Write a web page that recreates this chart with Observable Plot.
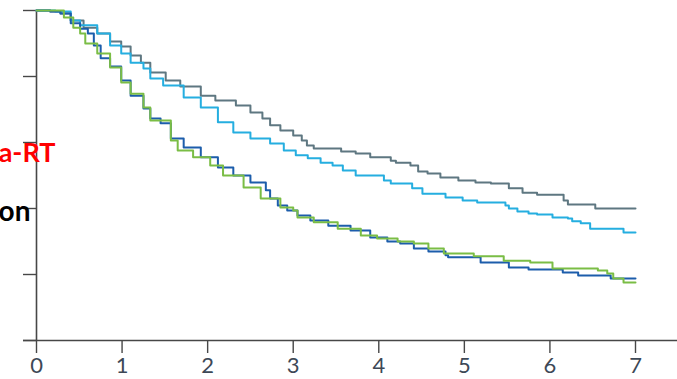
<!DOCTYPE html>
<html>
<head>
<meta charset="utf-8">
<script src="https://cdn.jsdelivr.net/npm/d3@7"></script>
<script src="https://cdn.jsdelivr.net/npm/@observablehq/plot@0.6"></script>
<style>
  html, body { margin: 0; padding: 0; background: #fff; }
  #chart { width: 677px; height: 379px; overflow: hidden; }
</style>
</head>
<body>
<div id="chart"></div>
<script>
// Series names and colours
const seriesNames = ["Arm A", "Arm B", "Arm C", "Arm D"];
const seriesColors = ["#5e7781", "#25aee0", "#1c5dab", "#7abd45"];

// Kaplan-Meier curves: [time (years), survival]
const greyCurve = [
  [0, 1.000], [0.16, 0.997], [0.28, 0.991], [0.40, 0.970], [0.55, 0.948], [0.71, 0.930],
  [0.86, 0.906], [0.99, 0.891], [1.10, 0.864], [1.22, 0.842], [1.33, 0.812], [1.51, 0.788],
  [1.68, 0.770], [1.92, 0.742], [2.09, 0.727], [2.33, 0.712], [2.50, 0.691], [2.64, 0.673],
  [2.73, 0.652], [2.85, 0.636], [3.00, 0.621], [3.10, 0.606], [3.16, 0.591], [3.24, 0.582],
  [3.56, 0.573], [3.73, 0.567], [3.90, 0.555], [4.14, 0.545], [4.20, 0.539], [4.37, 0.530],
  [4.46, 0.512], [4.57, 0.506], [4.72, 0.494], [4.93, 0.485], [5.13, 0.479], [5.31, 0.476],
  [5.52, 0.461], [5.68, 0.448], [5.85, 0.442], [6.16, 0.424], [6.21, 0.412], [6.53, 0.400],
  [7.00, 0.400]
];
const cyanCurve = [
  [0, 1.000], [0.22, 0.997], [0.40, 0.970], [0.51, 0.955], [0.71, 0.930], [0.86, 0.894],
  [0.99, 0.870], [1.10, 0.842], [1.25, 0.824], [1.33, 0.794], [1.48, 0.773], [1.72, 0.736],
  [1.92, 0.706], [2.12, 0.661], [2.30, 0.630], [2.50, 0.612], [2.73, 0.597], [2.89, 0.576],
  [3.03, 0.561], [3.17, 0.552], [3.32, 0.539], [3.46, 0.530], [3.58, 0.515], [3.73, 0.500],
  [4.06, 0.485], [4.14, 0.476], [4.39, 0.461], [4.51, 0.445], [4.78, 0.433], [4.98, 0.424],
  [5.15, 0.418], [5.48, 0.409], [5.52, 0.400], [5.62, 0.391], [5.75, 0.385], [5.85, 0.382],
  [6.03, 0.373], [6.21, 0.370], [6.26, 0.361], [6.36, 0.355], [6.47, 0.339], [6.86, 0.327],
  [7.00, 0.327]
];
const blueCurve = [
  [0, 1.000], [0.16, 0.997], [0.28, 0.991], [0.40, 0.961], [0.51, 0.945], [0.60, 0.930],
  [0.67, 0.894], [0.75, 0.855], [0.86, 0.830], [0.99, 0.788], [1.10, 0.742], [1.25, 0.703],
  [1.33, 0.673], [1.45, 0.658], [1.57, 0.612], [1.72, 0.585], [1.92, 0.555], [2.12, 0.524],
  [2.30, 0.500], [2.50, 0.479], [2.68, 0.455], [2.73, 0.430], [2.82, 0.409], [2.93, 0.394],
  [3.05, 0.379], [3.20, 0.364], [3.41, 0.348], [3.67, 0.333], [3.90, 0.312], [4.10, 0.300],
  [4.25, 0.294], [4.41, 0.279], [4.58, 0.270], [4.78, 0.258], [4.81, 0.252], [5.19, 0.236],
  [5.52, 0.221], [5.75, 0.215], [6.15, 0.206], [6.33, 0.197], [6.71, 0.188], [7.00, 0.188]
];
const greenCurve = [
  [0, 1.000], [0.28, 1.000], [0.32, 0.979], [0.43, 0.948], [0.51, 0.930], [0.57, 0.900],
  [0.71, 0.870], [0.86, 0.827], [0.99, 0.782], [1.10, 0.748], [1.25, 0.706], [1.33, 0.667],
  [1.57, 0.606], [1.65, 0.576], [1.83, 0.555], [2.03, 0.530], [2.18, 0.500], [2.42, 0.464],
  [2.62, 0.430], [2.85, 0.403], [3.00, 0.394], [3.05, 0.373], [3.24, 0.358], [3.52, 0.339],
  [3.79, 0.318], [3.98, 0.309], [4.22, 0.300], [4.41, 0.294], [4.58, 0.279], [4.76, 0.264],
  [5.11, 0.255], [5.46, 0.242], [5.77, 0.236], [6.03, 0.218], [6.56, 0.212], [6.67, 0.203],
  [6.74, 0.188], [6.86, 0.176], [7.00, 0.176]
];

// Axis ticks
const xTicks = [0, 1, 2, 3, 4, 5, 6, 7];
const yTicks = [0, 0.2, 0.4, 0.6, 0.8, 1.0];

// Cropped legend labels at the left edge
const redLabel = ["a-RT"];
const redLabelLevel = [0.567];
const blackLabel = ["on"];
const blackLabelLevel = [0.388];

const curves = [greyCurve, cyanCurve, blueCurve, greenCurve];
const rows = curves.flatMap((c, i) => c.map(([t, s]) => ({series: seriesNames[i], t, s})));

const axisColor = "#474747";
const tickFont = "'Liberation Sans Narrow', 'Lato', 'DejaVu Sans Condensed', sans-serif";

const chart = Plot.plot({
  width: 677,
  height: 379,
  marginLeft: 36,
  marginTop: 10,
  marginBottom: 39,
  marginRight: 42,
  style: {fontFamily: tickFont, background: "#fff", overflow: "visible"},
  x: {domain: [0, 7]},
  y: {domain: [0, 1]},
  color: {domain: seriesNames, range: seriesColors},
  marks: [
    Plot.ruleY([0], {x1: -0.152, x2: 7.5, stroke: axisColor, strokeWidth: 1.6}),
    Plot.ruleX([0], {y1: 0, y2: 1, stroke: axisColor, strokeWidth: 1.6}),
    Plot.axisY({ticks: yTicks, tickSize: 13, tickFormat: () => "", label: null, stroke: axisColor, strokeWidth: 1.4}),
    Plot.axisX({ticks: xTicks, tickSize: 13, tickPadding: 4, label: null, stroke: axisColor, strokeWidth: 1.4,
      fill: "#3d4856", fontSize: 22, tickFormat: d => String(d)}),
    Plot.line(rows, {x: "t", y: "s", z: "series", stroke: "series", curve: "step-after", strokeWidth: 2}),
    Plot.text(redLabel, {y: (d, i) => redLabelLevel[i], text: d => d, frameAnchor: "left", textAnchor: "end",
      dx: 19, fill: "#ff0000", fontWeight: "bold", fontSize: 27, fontFamily: "Lato, 'Open Sans', sans-serif"}),
    Plot.text(blackLabel, {y: (d, i) => blackLabelLevel[i], text: d => d, frameAnchor: "left", textAnchor: "end",
      dx: -6, fill: "#000", fontWeight: "bold", fontSize: 28, fontFamily: "Lato, 'Open Sans', sans-serif"})
  ]
});
document.getElementById("chart").append(chart);
</script>
</body>
</html>
